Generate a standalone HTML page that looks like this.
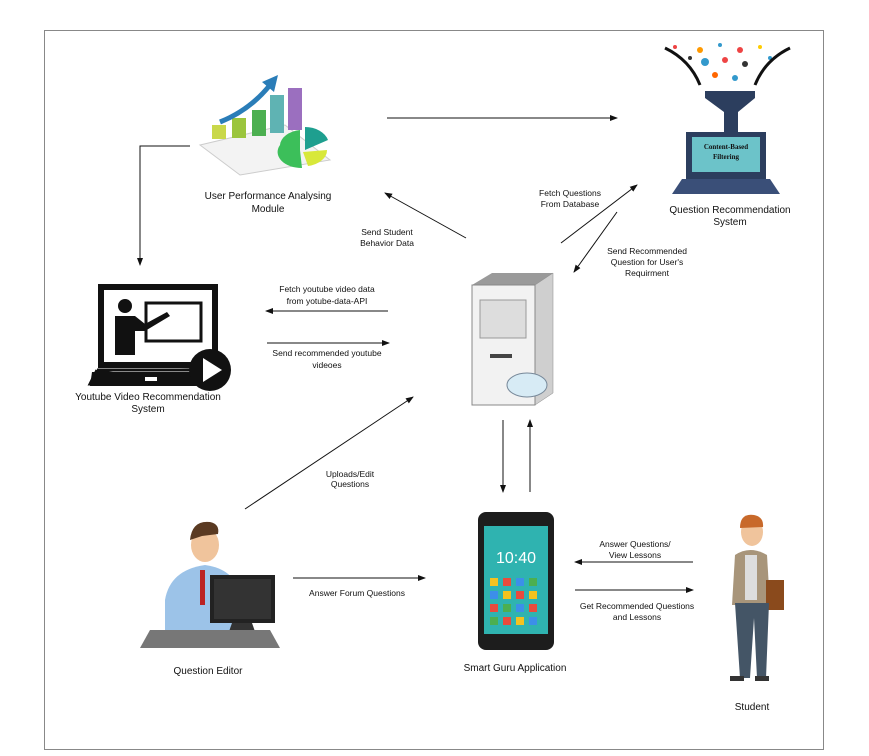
<!DOCTYPE html>
<html><head><meta charset="utf-8"><style>
html,body{margin:0;padding:0;background:#fff}
svg{display:block}
text{font-family:"Liberation Sans",sans-serif;fill:#111}
.s{font-size:8.5px}
.n{font-size:10px}
</style></head><body>
<svg width="869" height="756" viewBox="0 0 869 756" xmlns="http://www.w3.org/2000/svg">
<defs><marker id="a" markerWidth="8" markerHeight="8" refX="7" refY="4" orient="auto" markerUnits="userSpaceOnUse"><path d="M0,1 L8,4 L0,7z" fill="#111"/></marker></defs>
<rect x="44.5" y="30.5" width="779" height="719" fill="#fff" stroke="#888" stroke-width="1"/>

<!-- chart icon -->
<g>
<polygon points="200,145 285,125 330,160 240,175" fill="#f3f3f3" stroke="#ccc"/>
<rect x="212" y="125" width="14" height="14" fill="#c9d84a"/>
<rect x="232" y="118" width="14" height="20" fill="#9bc53d"/>
<rect x="252" y="110" width="14" height="26" fill="#4caf50"/>
<rect x="270" y="95" width="14" height="38" fill="#5fb3b3"/>
<rect x="288" y="88" width="14" height="42" fill="#9b6fbf"/>
<path d="M220,122 Q250,110 270,85" stroke="#2a7db8" stroke-width="5" fill="none"/>
<polygon points="262,82 278,75 274,92" fill="#2a7db8"/>
<path d="M305,150 L305,127 A24,18 0 0 1 328,140 Z" fill="#1e9f8f"/>
<path d="M303,152 L327,150 A24,16 0 0 1 308,166 Z" fill="#d8e83a"/>
<path d="M300,150 L302,168 A24,16 0 0 1 280,145 A24,16 0 0 1 300,130 Z" fill="#3cbf5a"/>
</g>
<text class="n" x="268" y="199" text-anchor="middle">User Performance Analysing</text>
<text class="n" x="268" y="212" text-anchor="middle">Module</text>

<!-- funnel + laptop -->
<g>
<g fill="#e44"><circle cx="675" cy="47" r="2"/><circle cx="700" cy="50" r="3" fill="#f90"/><circle cx="720" cy="45" r="2" fill="#39c"/><circle cx="740" cy="50" r="3"/><circle cx="760" cy="47" r="2" fill="#fc0"/><circle cx="705" cy="62" r="4" fill="#39c"/><circle cx="725" cy="60" r="3" fill="#e44"/><circle cx="745" cy="64" r="3" fill="#333"/><circle cx="715" cy="75" r="3" fill="#f60"/><circle cx="735" cy="78" r="3" fill="#39c"/><circle cx="690" cy="58" r="2" fill="#333"/><circle cx="770" cy="58" r="2" fill="#39c"/></g>
<path d="M665,48 Q690,60 700,85" stroke="#111" stroke-width="3" fill="none"/>
<path d="M790,48 Q765,60 755,85" stroke="#111" stroke-width="3" fill="none"/>
<polygon points="705,91 755,91 755,98 738,112 738,132 724,132 724,112 705,98" fill="#2c3e5e"/>
<rect x="686" y="132" width="80" height="47" fill="#2c3e5e"/>
<rect x="692" y="137" width="68" height="35" fill="#6cc3c9"/>
<text x="726" y="149" text-anchor="middle" style="font-family:'Liberation Serif',serif;font-size:7px;font-weight:bold">Content-Based</text>
<text x="726" y="159" text-anchor="middle" style="font-family:'Liberation Serif',serif;font-size:7px;font-weight:bold">Filtering</text>
<polygon points="682,179 770,179 780,194 672,194" fill="#3a4f78"/>
</g>
<text class="n" x="730" y="213" text-anchor="middle">Question Recommendation</text>
<text class="n" x="730" y="225" text-anchor="middle">System</text>

<!-- youtube icon -->
<g>
<rect x="101" y="287" width="114" height="78" fill="none" stroke="#111" stroke-width="6"/>
<rect x="146" y="303" width="55" height="38" fill="none" stroke="#111" stroke-width="3"/>
<circle cx="125" cy="306" r="7" fill="#111"/>
<path d="M115,316 h20 l10,8 l22,-12 l3,4 l-25,15 h-10 v24 h-20z" fill="#111"/>
<path d="M97,370 h110 v-2 M97,370 l-7,14 h120" fill="#111" stroke="#111" stroke-width="3"/>
<polygon points="92,372 205,372 200,386 90,386" fill="#111"/>
<rect x="145" y="377" width="12" height="4" fill="#fff"/>
<circle cx="210" cy="370" r="21" fill="#111"/>
<polygon points="203,358 203,382 222,370" fill="#fff"/>
</g>
<text class="n" x="148" y="400" text-anchor="middle">Youtube Video Recommendation</text>
<text class="n" x="148" y="412" text-anchor="middle">System</text>

<!-- server -->
<g>
<polygon points="472,285 492,273 553,273 535,285" fill="#9a9a9a"/>
<polygon points="535,285 553,273 553,393 535,405" fill="#cfcfcf" stroke="#888" stroke-width="0.5"/>
<rect x="472" y="285" width="63" height="120" fill="#f2f2f2" stroke="#888"/>
<rect x="480" y="300" width="46" height="38" fill="#ddd" stroke="#999"/>
<rect x="490" y="354" width="22" height="4" fill="#444"/>
<ellipse cx="527" cy="385" rx="20" ry="12" fill="#d7ebf5" stroke="#789"/>
</g>

<!-- phone -->
<g>
<rect x="478" y="512" width="76" height="138" rx="8" fill="#1d1d1d"/>
<rect x="484" y="526" width="64" height="108" fill="#2fb3b0"/>
<text x="516" y="563" text-anchor="middle" style="font-size:16px;fill:#fff;font-family:'Liberation Sans',sans-serif">10:40</text>
<g>
<rect x="490" y="578" width="8" height="8" fill="#f4c21f"/><rect x="503" y="578" width="8" height="8" fill="#e94b3c"/><rect x="516" y="578" width="8" height="8" fill="#3c8fe9"/><rect x="529" y="578" width="8" height="8" fill="#4caf50"/>
<rect x="490" y="591" width="8" height="8" fill="#3c8fe9"/><rect x="503" y="591" width="8" height="8" fill="#f4c21f"/><rect x="516" y="591" width="8" height="8" fill="#e94b3c"/><rect x="529" y="591" width="8" height="8" fill="#f4c21f"/>
<rect x="490" y="604" width="8" height="8" fill="#e94b3c"/><rect x="503" y="604" width="8" height="8" fill="#4caf50"/><rect x="516" y="604" width="8" height="8" fill="#3c8fe9"/><rect x="529" y="604" width="8" height="8" fill="#e94b3c"/>
<rect x="490" y="617" width="8" height="8" fill="#4caf50"/><rect x="503" y="617" width="8" height="8" fill="#e94b3c"/><rect x="516" y="617" width="8" height="8" fill="#f4c21f"/><rect x="529" y="617" width="8" height="8" fill="#3c8fe9"/>
</g>
</g>
<text class="n" x="515" y="671" text-anchor="middle">Smart Guru Application</text>

<!-- editor -->
<g>
<ellipse cx="205" cy="545" rx="14" ry="17" fill="#f0c49c"/>
<path d="M190,540 q2,-20 20,-18 q10,2 8,12 l-16,2z" fill="#5a3a22"/>
<path d="M165,600 q5,-30 40,-35 q30,4 35,30 v40 h-75z" fill="#9cc3e8"/>
<rect x="200" y="570" width="5" height="35" fill="#b22"/>
<rect x="210" y="575" width="65" height="48" fill="#222"/>
<rect x="214" y="579" width="57" height="40" fill="#333"/>
<polygon points="232,623 252,623 258,640 226,640" fill="#333"/>
<polygon points="150,630 270,630 280,648 140,648" fill="#777"/>
</g>
<text class="n" x="208" y="674" text-anchor="middle">Question Editor</text>

<!-- student -->
<g>
<ellipse cx="752" cy="532" rx="11" ry="14" fill="#f0c49c"/>
<path d="M740,528 q0,-15 14,-13 q10,2 9,12z" fill="#c8692a"/>
<path d="M735,555 q15,-10 32,0 l3,50 h-38z" fill="#a8957a"/>
<rect x="745" y="555" width="12" height="45" fill="#ddd"/>
<rect x="766" y="580" width="18" height="30" fill="#8a4a1c"/>
<path d="M735,603 h34 l-3,75 h-9 l-3,-60 l-4,60 h-10z" fill="#456"/>
<rect x="730" y="676" width="14" height="5" fill="#333"/><rect x="755" y="676" width="14" height="5" fill="#333"/>
</g>
<text class="n" x="752" y="710" text-anchor="middle">Student</text>

<!-- arrows -->
<g stroke="#111" stroke-width="1" fill="none" marker-end="url(#a)">
<line x1="387" y1="118" x2="617" y2="118"/>
<polyline points="190,146 140,146 140,265"/>
<line x1="466" y1="238" x2="385" y2="193"/>
<line x1="561" y1="243" x2="637" y2="185"/>
<line x1="617" y1="212" x2="574" y2="272"/>
<line x1="388" y1="311" x2="266" y2="311"/>
<line x1="267" y1="343" x2="389" y2="343"/>
<line x1="245" y1="509" x2="413" y2="397"/>
<line x1="503" y1="420" x2="503" y2="492"/>
<line x1="530" y1="492" x2="530" y2="420"/>
<line x1="293" y1="578" x2="425" y2="578"/>
<line x1="693" y1="562" x2="575" y2="562"/>
<line x1="575" y1="590" x2="693" y2="590"/>
</g>

<!-- labels -->
<text class="s" x="387" y="235" text-anchor="middle">Send Student</text>
<text class="s" x="387" y="246" text-anchor="middle">Behavior Data</text>
<text class="s" x="570" y="196" text-anchor="middle">Fetch Questions</text>
<text class="s" x="570" y="207" text-anchor="middle">From Database</text>
<text class="s" x="647" y="254" text-anchor="middle">Send Recommended</text>
<text class="s" x="647" y="265" text-anchor="middle">Question for User's</text>
<text class="s" x="647" y="276" text-anchor="middle">Requirment</text>
<text class="s" x="327" y="292" text-anchor="middle">Fetch youtube video data</text>
<text class="s" x="327" y="304" text-anchor="middle">from yotube-data-API</text>
<text class="s" x="327" y="356" text-anchor="middle">Send recommended youtube</text>
<text class="s" x="327" y="368" text-anchor="middle">videoes</text>
<text class="s" x="350" y="477" text-anchor="middle">Uploads/Edit</text>
<text class="s" x="350" y="487" text-anchor="middle">Questions</text>
<text class="s" x="357" y="596" text-anchor="middle">Answer Forum Questions</text>
<text class="s" x="635" y="547" text-anchor="middle">Answer Questions/</text>
<text class="s" x="635" y="558" text-anchor="middle">View Lessons</text>
<text class="s" x="637" y="609" text-anchor="middle">Get Recommended Questions</text>
<text class="s" x="637" y="620" text-anchor="middle">and Lessons</text>
</svg>
</body></html>
